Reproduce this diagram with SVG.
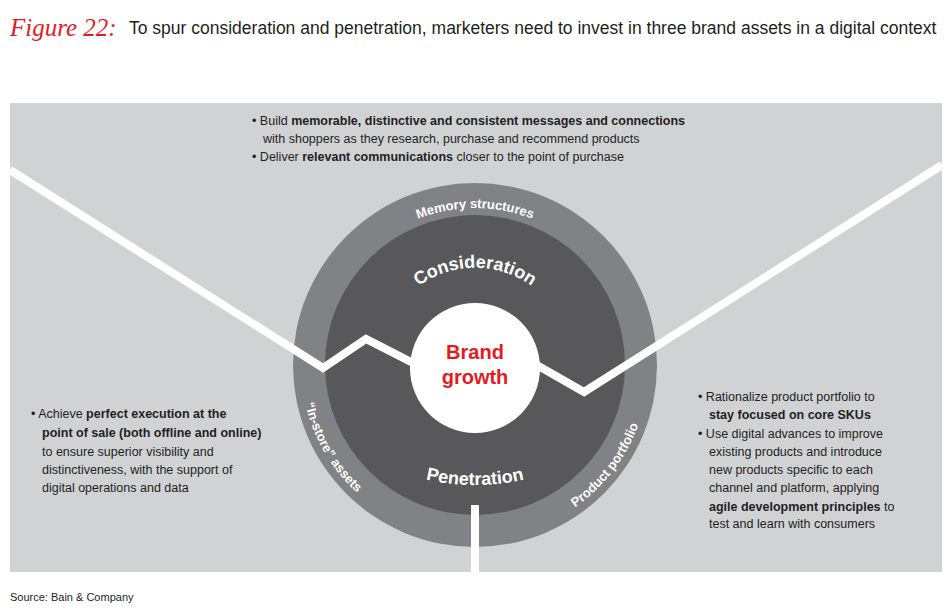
<svg xmlns="http://www.w3.org/2000/svg" width="950" height="615" viewBox="0 0 950 615">
<style>
.t{font-family:"Liberation Sans",Arial,sans-serif;font-size:12.5px;fill:#231f20}
.b{font-weight:bold}
.ring{font-family:"Liberation Sans",Arial,sans-serif;font-size:13px;font-weight:bold;fill:#fff}
.big{font-family:"Liberation Sans",Arial,sans-serif;font-size:18px;font-weight:bold;fill:#fff}
.wl{fill:none;stroke:#fff;stroke-width:8;stroke-linejoin:miter}
</style>
<defs>
<path id="pMem" d="M327.5,311.3 A157,157 0 0 1 622.5,311.3"/>
<path id="pCon" d="M383.8,331.8 A97,97 0 0 1 566.2,331.8"/>
<path id="pPen" d="M395,470 A220,220 0 0 0 555,470"/>
<path id="pIn" d="M303.6,334.8 A174,174 0 0 0 415.5,528.5"/>
<path id="pProd" d="M505.2,536.4 A174,174 0 0 0 648.3,349.8"/>
</defs>
<rect width="950" height="615" fill="#fff"/>
<text x="10" y="36" font-family="Liberation Serif,serif" font-style="italic" font-size="25" fill="#e31b23">Figure 22:</text>
<text x="129" y="34" class="t" style="font-size:17.5px">To spur consideration and penetration, marketers need to invest in three brand assets in a digital context</text>
<rect x="10" y="103" width="932" height="469" fill="#d1d2d4"/>
<g id="rings">
<circle cx="475" cy="365" r="182" fill="#808285"/>
<circle cx="475" cy="365" r="150" fill="#58585a"/>
</g>
<g id="connectors">
<polyline class="wl" points="10,170 323,368 366,339 415,364"/>
<polyline class="wl" points="535,364 584,392 942,165"/>
<line class="wl" x1="475" y1="505" x2="475" y2="572"/>
</g>
<g id="center">
<circle cx="475" cy="368" r="65" fill="#fff"/>
<text x="475" y="359" text-anchor="middle" font-family="Liberation Sans,Arial,sans-serif" font-size="20" font-weight="bold" fill="#e31b23">Brand</text>
<text x="475" y="384" text-anchor="middle" font-family="Liberation Sans,Arial,sans-serif" font-size="20" font-weight="bold" fill="#e31b23">growth</text>
</g>
<g id="labels">
<text class="ring"><textPath href="#pMem" startOffset="50%" text-anchor="middle">Memory structures</textPath></text>
<text class="big"><textPath href="#pCon" startOffset="50%" text-anchor="middle">Consideration</textPath></text>
<text class="big"><textPath href="#pPen" startOffset="50%" text-anchor="middle">Penetration</textPath></text>
<text class="ring"><textPath href="#pIn" startOffset="50%" text-anchor="middle">“In-store” assets</textPath></text>
<text class="ring"><textPath href="#pProd" startOffset="50%" text-anchor="middle">Product portfolio</textPath></text>
</g>
<g id="top-text">
<text x="252" y="125" class="t">• Build <tspan class="b">memorable, distinctive and consistent messages and connections</tspan></text>
<text x="263" y="143" class="t">with shoppers as they research, purchase and recommend products</text>
<text x="252" y="161" class="t">• Deliver <tspan class="b">relevant communications</tspan> closer to the point of purchase</text>
</g>
<g id="left-text">
<text x="31" y="418" class="t">• Achieve <tspan class="b">perfect execution at the</tspan></text>
<text x="42" y="437" class="t b">point of sale (both offline and online)</text>
<text x="42" y="456" class="t">to ensure superior visibility and</text>
<text x="42" y="474" class="t">distinctiveness, with the support of</text>
<text x="42" y="492" class="t">digital operations and data</text>
</g>
<g id="right-text">
<text x="698" y="401" class="t">• Rationalize product portfolio to</text>
<text x="709" y="419" class="t b">stay focused on core SKUs</text>
<text x="698" y="438" class="t">• Use digital advances to improve</text>
<text x="709" y="456" class="t">existing products and introduce</text>
<text x="709" y="474" class="t">new products specific to each</text>
<text x="709" y="492" class="t">channel and platform, applying</text>
<text x="709" y="511" class="t"><tspan class="b">agile development principles</tspan> to</text>
<text x="709" y="528" class="t">test and learn with consumers</text>
</g>
<text x="10" y="601" class="t" style="font-size:11px">Source: Bain &amp; Company</text>
</svg>
